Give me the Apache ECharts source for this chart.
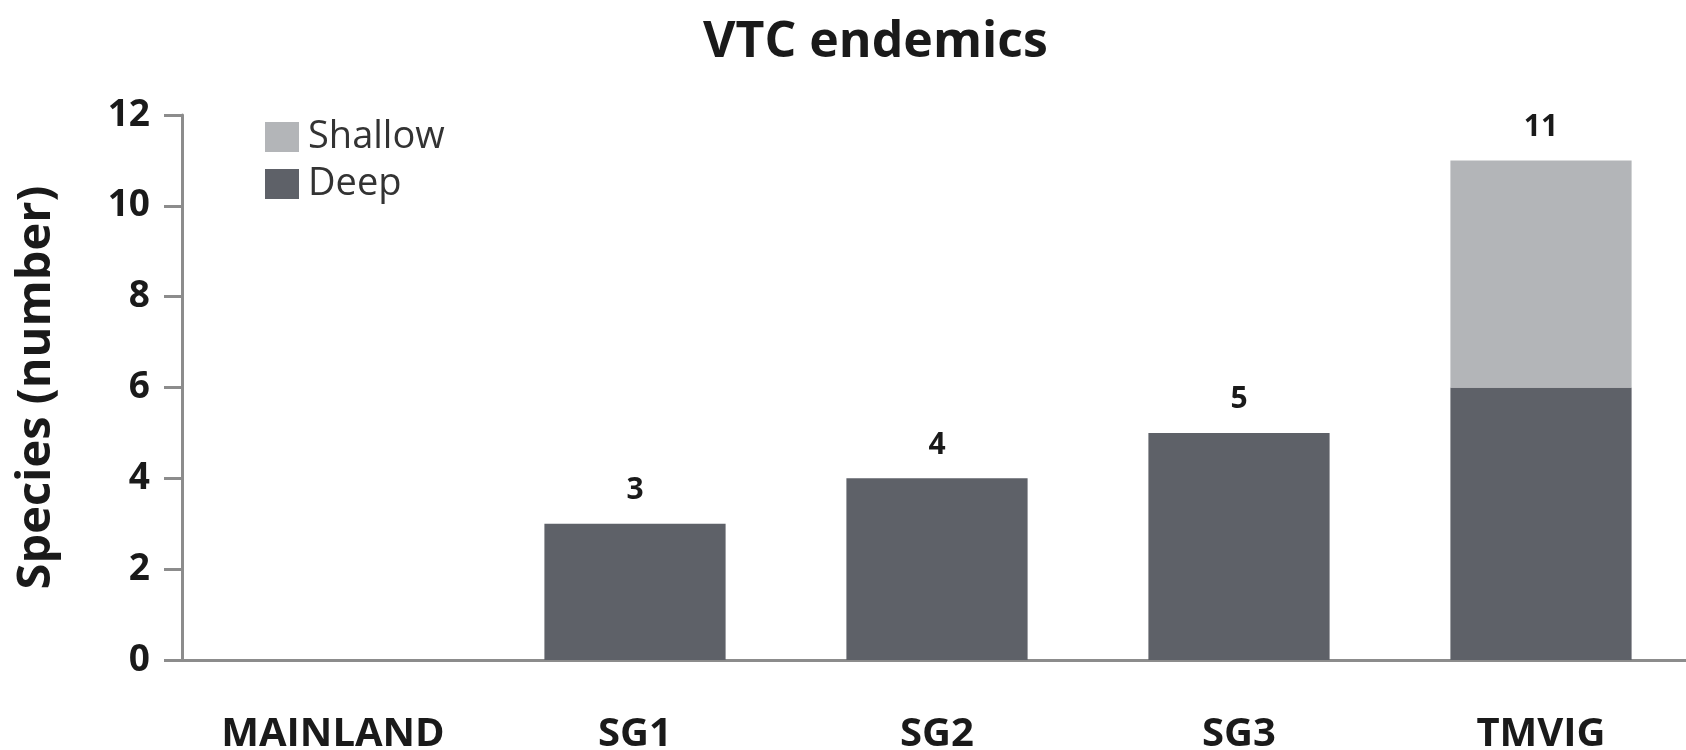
<!DOCTYPE html>
<html lang="en">
<head>
  <meta charset="UTF-8">
  <title>VTC endemics</title>
  <script src="https://cdn.jsdelivr.net/npm/echarts@6/dist/echarts.min.js"></script>
  <style>
    html, body { margin: 0; padding: 0; background: #fff; }
  </style>
</head>
<body>
  <div id="main" style="width: 1686px;height:750px;"></div>
  <script type="text/javascript">
    // chart data
    var categories = ['MAINLAND', 'SG1', 'SG2', 'SG3', 'TMVIG'];
    var deep = [0, 3, 4, 5, 6];
    var shallow = [0, 0, 0, 0, 5];
    var yTicks = [0, 2, 4, 6, 8, 10, 12];

    var totals = categories.map(function (c, i) { return deep[i] + shallow[i]; });

    var axisGrey = '#8c8c8c';
    var font = '"Open Sans", "Noto Sans", sans-serif';

    var myChart = echarts.init(document.getElementById('main'));

    var option = {
      backgroundColor: '#fff',
      animation: false,
      title: {
        text: 'VTC endemics',
        left: 698,
        top: 13,
        textStyle: { fontFamily: font, fontSize: 50, fontWeight: 'bold', color: '#1a1a1a' }
      },
      legend: {
        orient: 'vertical',
        left: 265,
        top: 118,
        padding: 0,
        itemWidth: 34,
        itemHeight: 30,
        itemGap: 9,
        icon: 'rect',
        data: ['Shallow', 'Deep'],
        textStyle: { fontFamily: font, fontSize: 38, color: '#333', padding: [0, 0, 0, 4] }
      },
      // keep the plot area fixed; the x axis runs off the right edge like the original
      grid: { left: 182, top: 115, width: 1510, height: 545, outerBoundsMode: 'none' },
      xAxis: {
        type: 'category',
        data: categories,
        axisLine: { lineStyle: { color: axisGrey, width: 3 } },
        axisTick: { length: 14, lineStyle: { color: axisGrey, width: 3 } },
        axisLabel: { margin: 55, fontFamily: font, fontSize: 40, fontWeight: 'bold', color: '#1a1a1a' }
      },
      yAxis: {
        type: 'value',
        min: yTicks[0],
        max: yTicks[yTicks.length - 1],
        interval: 2,
        name: 'Species (number)',
        nameLocation: 'middle',
        nameGap: 122,
        nameTextStyle: { fontFamily: font, fontSize: 47, fontWeight: 'bold', color: '#1a1a1a' },
        axisLine: { show: true, lineStyle: { color: axisGrey, width: 3 } },
        axisTick: { show: true, length: 18, lineStyle: { color: axisGrey, width: 3 } },
        splitLine: { show: false },
        axisLabel: { margin: 32, fontFamily: font, fontSize: 37, fontWeight: 'bold', color: '#1a1a1a' }
      },
      series: [
        {
          name: 'Deep',
          type: 'bar',
          stack: 'total',
          barWidth: '60%',
          itemStyle: { color: '#5e6168' },
          data: deep
        },
        {
          name: 'Shallow',
          type: 'bar',
          stack: 'total',
          barWidth: '60%',
          itemStyle: { color: '#b3b5b8' },
          label: {
            show: true,
            position: 'top',
            distance: 18,
            fontFamily: font,
            fontSize: 30,
            fontWeight: 'bold',
            color: '#1a1a1a',
            formatter: function (p) { return totals[p.dataIndex] ? String(totals[p.dataIndex]) : ''; }
          },
          data: shallow
        }
      ]
    };

    myChart.setOption(option);
  </script>
</body>
</html>
